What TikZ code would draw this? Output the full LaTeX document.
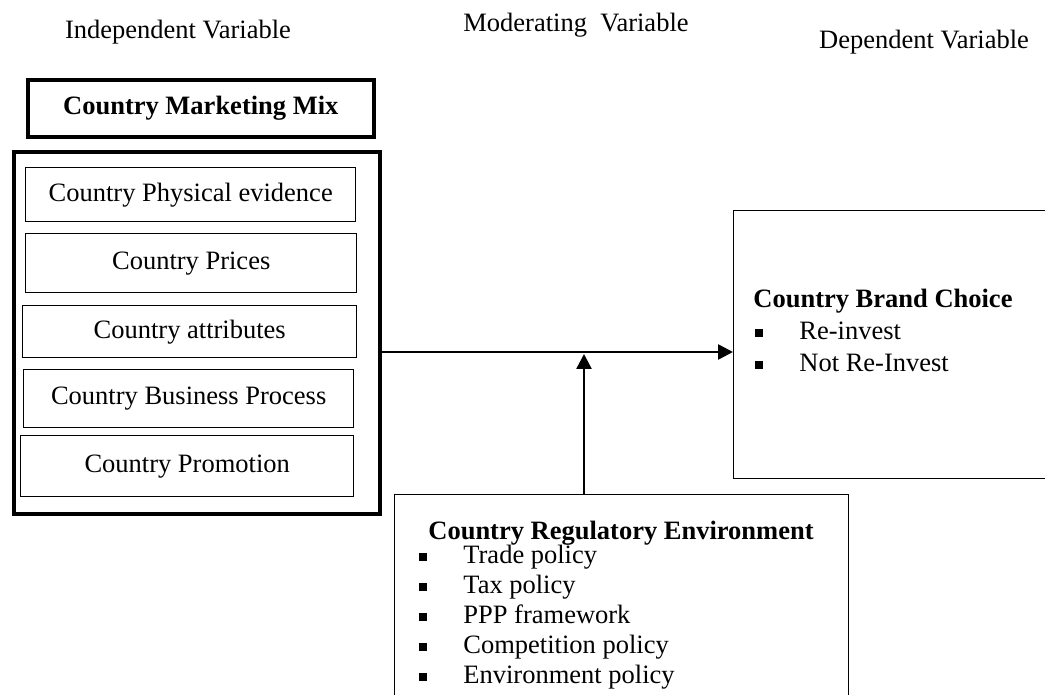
\documentclass[tikz,border=0pt]{standalone}
\usepackage{fontspec}
\setmainfont{Liberation Serif}
\usetikzlibrary{positioning,arrows.meta}

% square bullet followed by the item indent
\newcommand{\sqitem}{\makebox[23pt][l]{\hspace{1pt}\rule[0.12em]{3.9pt}{3.9pt}}}

\begin{document}
\begin{tikzpicture}[
x=0.5pt,y=-0.5pt,
every node/.style={font=\fontsize{13.25}{15}\selectfont},
thin box/.style={draw,line width=0.7pt,inner sep=0pt,anchor=north west},
thick box/.style={draw,line width=1.8pt,inner sep=0pt,anchor=north west},
>={Triangle[length=7.5pt,width=7.5pt]}
]

\useasboundingbox (0,0) rectangle (1045,695);
\clip (0,0) rectangle (1045,695);

% column headings
\node (iv) at (178,32) {Independent Variable};
\node (mv) at (576,25) {Moderating~ Variable};
\node (dv) at (924,42) {Dependent Variable};

% independent variable
\node[thick box,minimum width=173pt,minimum height=28.5pt] (mix) at (26,78) {\textbf{Country Marketing Mix}};
\node[thick box,minimum width=183pt,minimum height=181pt] (ivbox) at (12,150) {};
\node[thin box,minimum width=165pt,minimum height=27pt] (pe) at (25,167) {Country Physical evidence};
\node[thin box,minimum width=165.5pt,minimum height=29.5pt] (pr) at (25,233) {Country Prices};
\node[thin box,minimum width=167pt,minimum height=26pt] (attr) at (22,305) {Country attributes};
\node[thin box,minimum width=165pt,minimum height=29pt] (bp) at (23,369) {Country Business Process};
\node[thin box,minimum width=166.5pt,minimum height=30.5pt] (pm) at (20,435) {Country Promotion};

% dependent variable (runs off the right edge)
\node[thin box,minimum width=160pt,minimum height=134pt] (bc) at (733,210) {};
\node[anchor=north west,inner sep=0pt,align=left,font=\fontsize{13.25}{16}\selectfont] (bctext) at (753,289)
  {\textbf{Country Brand Choice}\\ \sqitem Re-invest\\ \sqitem Not Re-Invest};

% moderating variable (runs off the bottom edge)
\node[thin box,minimum width=227pt,minimum height=110pt] (re) at (394,494) {};
\node[anchor=base] (retitle) at (621,539) {\textbf{Country Regulatory Environment}};
\node[anchor=north west,inner sep=0pt,align=left] (relist) at (417,545)
  {\sqitem Trade policy\\ \sqitem Tax policy\\ \sqitem PPP framework\\
   \sqitem Competition policy\\ \sqitem Environment policy};

% arrows
\coordinate (join) at (584,352);
\draw[->,line width=1.3pt] (ivbox.east |- join) -- (bc.west |- join);
\draw[->,line width=1.3pt,shorten >=1pt] (re.north -| join) -- (join);

\end{tikzpicture}
\end{document}
